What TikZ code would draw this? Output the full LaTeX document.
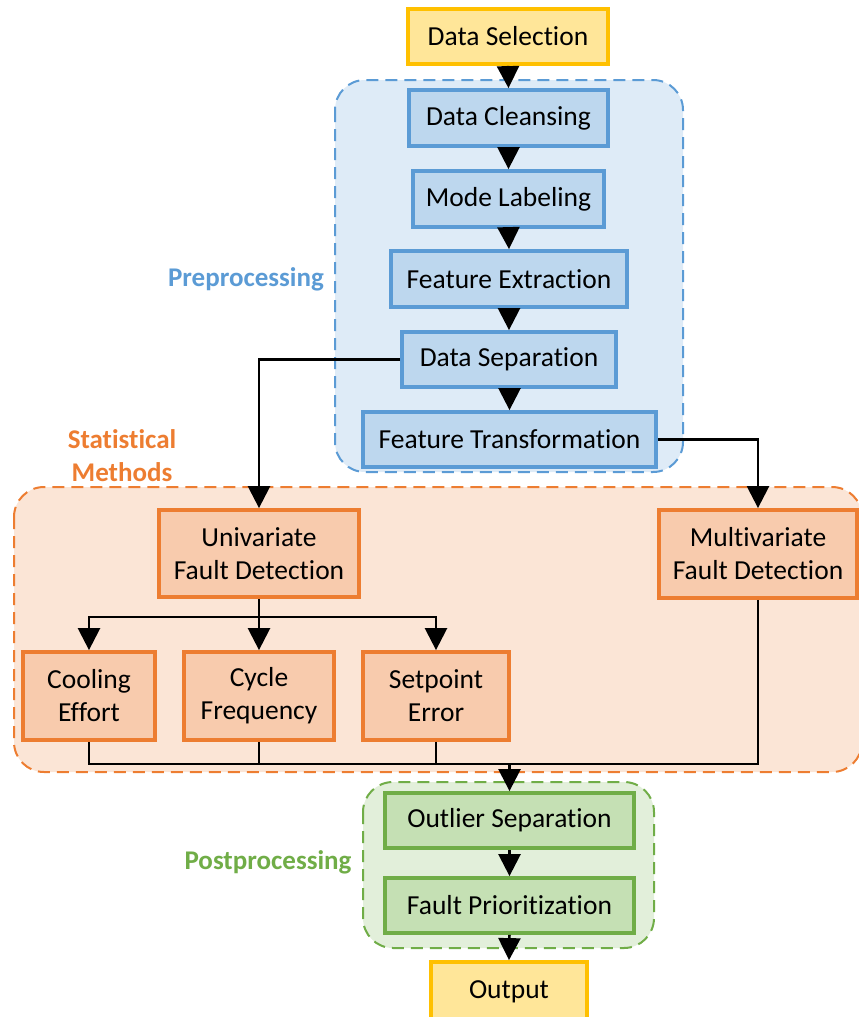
\documentclass[tikz,border=0pt]{standalone}
\usepackage{fontspec}
\setmainfont{Carlito}[Ligatures={NoCommon}]
\usetikzlibrary{arrows.meta}
\definecolor{yelF}{HTML}{FFE699}\definecolor{yelD}{HTML}{FFC000}
\definecolor{bluF}{HTML}{BDD7EE}\definecolor{bluD}{HTML}{5B9BD5}\definecolor{bluC}{HTML}{DEEBF7}
\definecolor{orgF}{HTML}{F8CBAD}\definecolor{orgD}{HTML}{ED7D31}\definecolor{orgC}{HTML}{FBE5D6}
\definecolor{grnF}{HTML}{C5E0B4}\definecolor{grnD}{HTML}{70AD47}\definecolor{grnC}{HTML}{E2EFDA}
\tikzset{
  x=1pt, y=-1pt,
  boxbase/.style={draw, line width=3.8pt, inner sep=0pt, align=center,
    font=\fontsize{27.5}{33}\selectfont, text=black},
  ybox/.style={boxbase, fill=yelF, draw=yelD},
  bbox/.style={boxbase, fill=bluF, draw=bluD},
  obox/.style={boxbase, fill=orgF, draw=orgD},
  gbox/.style={boxbase, fill=grnF, draw=grnD},
  cont/.style={dashed, dash pattern=on 12pt off 7pt, line width=2pt, rounded corners=30pt},
  grplabel/.style={font=\fontsize{27}{33}\selectfont\bfseries, align=center},
  conn/.style={line width=2.5pt, draw=black},
  arr/.style={conn, -{Triangle[width=22pt,length=22pt]}},
}
\newcommand{\bx}[7]{% style, name, x1, y1, x2, y2, text
  \node[#1, minimum width={#5-#3}, minimum height={#6-#4}] (#2) at ({(#3+#5)/2},{(#4+#6)/2}) {#7};}
\begin{document}
\begin{tikzpicture}
\useasboundingbox (0,0) rectangle (859,1017);
% containers
\draw[cont, draw=bluD, fill=bluC] (335,80) rectangle (683,472);
\draw[cont, draw=orgD, fill=orgC] (14,487) rectangle (862,772);
\draw[cont, draw=grnD, fill=grnC] (363,782) rectangle (654,948);
% group labels
\node[grplabel, text=bluD] (lpre) at (246,279) {Preprocessing};
\node[grplabel, text=orgD] (lstat) at (122,456) {Statistical\\Methods};
\node[grplabel, text=grnD] (lpost) at (268,862) {Postprocessing};
% boxes
\bx{ybox}{sel}{408}{9}{608}{64}{Data Selection}
\bx{bbox}{clean}{409}{90}{608}{146}{Data Cleansing}
\bx{bbox}{mode}{413}{171}{604}{227}{Mode Labeling}
\bx{bbox}{feat}{391}{251}{627}{307}{Feature Extraction}
\bx{bbox}{dsep}{402}{332}{616}{387}{Data Separation}
\bx{bbox}{ftra}{363}{412}{656}{467}{Feature Transformation}
\bx{obox}{uni}{159}{510}{359}{597}{Univariate\\Fault Detection}
\bx{obox}{multi}{659}{510}{857}{598}{Multivariate\\Fault Detection}
\bx{obox}{cool}{23}{652}{155}{740}{Cooling\\Effort}
\bx{obox}{cyc}{184}{652}{334}{740}{Cycle\\Frequency}
\bx{obox}{setp}{363}{652}{509}{740}{Setpoint\\Error}
\bx{gbox}{outl}{385}{793}{634}{848}{Outlier Separation}
\bx{gbox}{prio}{385}{878}{634}{933}{Fault Prioritization}
\bx{ybox}{out}{431}{962}{587}{1022}{Output}
% connectors
\draw[arr] (sel.south) -- (clean.north);
\draw[arr] (clean.south) -- (mode.north);
\draw[arr] (mode.south) -- (feat.north);
\draw[arr] (feat.south) -- (dsep.north);
\draw[arr] (dsep.south -| ftra.north) -- (ftra.north);
\draw[arr] (dsep.west) -| (uni.north);
\draw[arr] (ftra.east) -| (multi.north);
\coordinate (split) at (uni.south |- 0,617);
\draw[conn] (uni.south) -- (split);
\draw[arr] (split) -| (cool.north);
\draw[arr] (split) -- (cyc.north);
\draw[arr] (split) -| (setp.north);
\coordinate (merge) at (outl.north |- 0,764);
\draw[conn] (cool.south) |- (merge);
\draw[conn] (cyc.south) |- (merge);
\draw[conn] (setp.south) |- (merge);
\draw[conn] (multi.south) |- (merge);
\draw[arr] (merge) -- (outl.north);
\draw[arr] (outl.south) -- (prio.north);
\draw[arr] (prio.south) -- (out.north);
\end{tikzpicture}
\end{document}
